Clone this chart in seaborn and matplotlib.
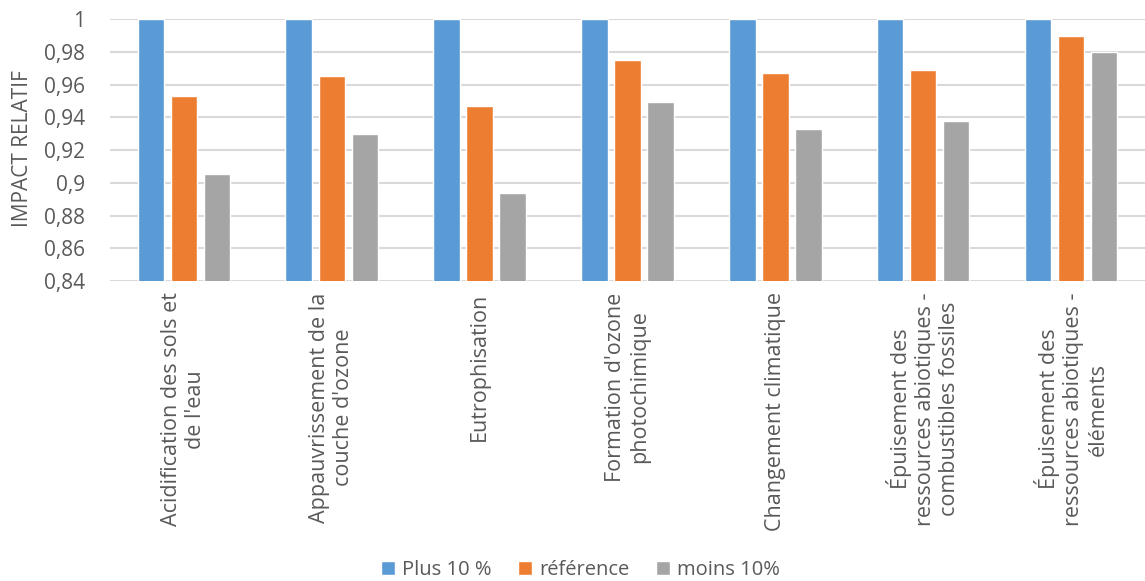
import pandas as pd
import matplotlib.pyplot as plt
import seaborn as sns
from matplotlib.ticker import FuncFormatter, MultipleLocator

categories = [
    "Acidification des sols et\nde l'eau",
    "Appauvrissement de la\ncouche d'ozone",
    "Eutrophisation",
    "Formation d'ozone\nphotochimique",
    "Changement climatique",
    "Épuisement des\nressources abiotiques -\ncombustibles fossiles",
    "Épuisement des\nressources abiotiques -\néléments",
]
series_names = ['Plus 10 %', 'référence', 'moins 10%']
plus_10 = [1, 1, 1, 1, 1, 1, 1]
reference = [0.953, 0.965, 0.947, 0.975, 0.967, 0.969, 0.990]
moins_10 = [0.9055, 0.930, 0.894, 0.9495, 0.933, 0.938, 0.980]

colors = {'Plus 10 %': '#5B9BD5', 'référence': '#ED7D31', 'moins 10%': '#A5A5A5'}
text_color = '#595959'

rows = []
for name, vals in zip(series_names, [plus_10, reference, moins_10]):
    for cat, v in zip(categories, vals):
        rows.append({'categorie': cat, 'serie': name, 'valeur': v})
df = pd.DataFrame(rows)

sns.set_theme(style="white")
plt.rcParams['font.family'] = ['Open Sans', 'DejaVu Sans']

fig = plt.figure(figsize=(11.45, 5.81), dpi=100)
ax = fig.add_axes([0.096, 0.516, 0.904, 0.451])

sns.barplot(
    data=df,
    x='categorie',
    y='valeur',
    hue='serie',
    palette=colors,
    order=categories,
    hue_order=series_names,
    width=0.67,
    gap=0.2,
    saturation=1,
    ax=ax,
    zorder=3,
)

ax.set_ylim(0.84, 1.0)
ax.yaxis.set_major_locator(MultipleLocator(0.02))
ax.yaxis.set_major_formatter(FuncFormatter(lambda v, p: f"{round(v, 4):g}".replace('.', ',')))
ax.grid(axis='y', color='#d9d9d9', linewidth=1.5, zorder=0)
ax.set_axisbelow(True)
for s in ax.spines.values():
    s.set_visible(False)

ax.set_xlabel('')
ax.tick_params(axis='y', labelsize=15, colors=text_color, length=0, pad=18)
ax.tick_params(axis='x', labelsize=15.5, colors=text_color, length=0, pad=8)
for lab in ax.get_xticklabels():
    lab.set_rotation(90)
    lab.set_multialignment('center')
    lab.set_va('top')
    lab.set_ha('center')
ax.set_ylabel('')
fig.text(0.02, 0.745, 'IMPACT RELATIF', rotation=90, fontsize=15, color=text_color,
         ha='center', va='center')

handles, labels = ax.get_legend_handles_labels()
ax.legend_.remove()
fig.legend(handles, labels, loc='lower center', bbox_to_anchor=(0.507, -0.03), ncol=3,
           frameon=False, fontsize=14.5, handlelength=0.7, handleheight=0.7,
           columnspacing=1.3, handletextpad=0.35, labelcolor=text_color)

plt.savefig('out.png', dpi=100)
plt.close()
